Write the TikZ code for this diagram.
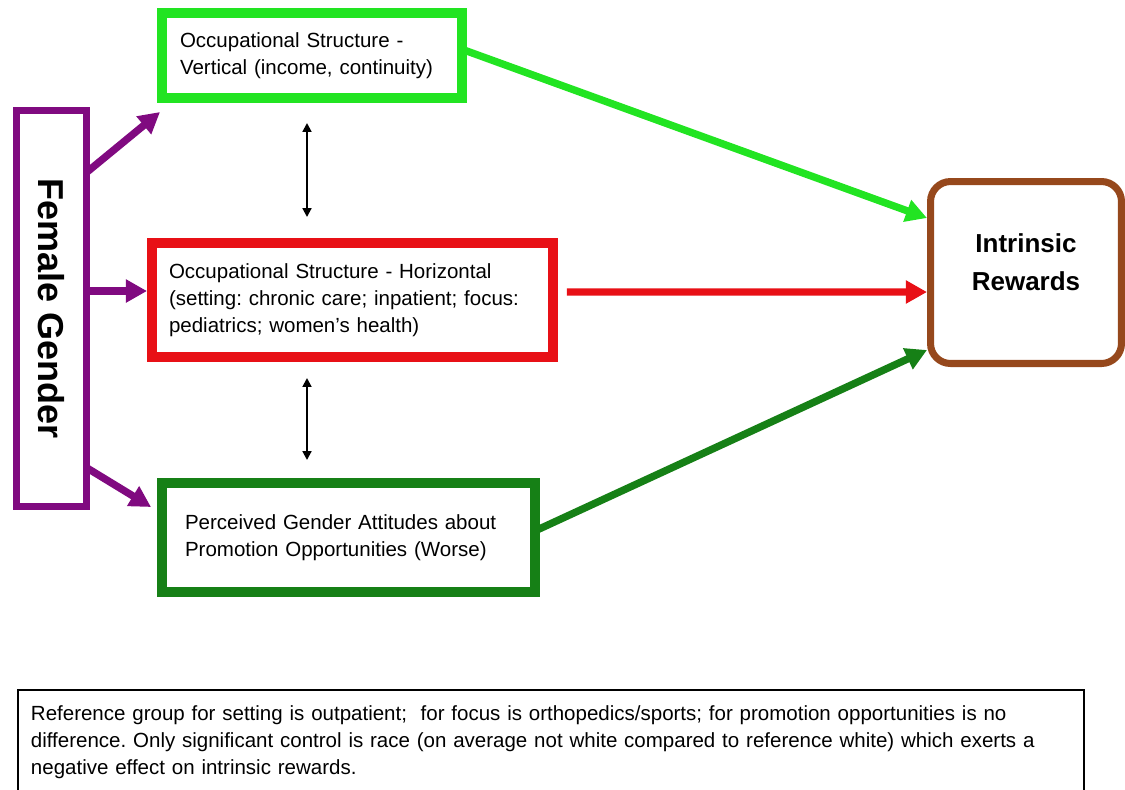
\documentclass[tikz,border=0pt]{standalone}
\usepackage{graphicx}
\usepackage{fontspec}
\setmainfont{Liberation Sans}
\usetikzlibrary{arrows.meta,calc}
\frenchspacing

\definecolor{vertgreen}{RGB}{34,228,34}
\definecolor{horizred}{RGB}{232,16,22}
\definecolor{attgreen}{RGB}{22,128,22}
\definecolor{genpurple}{RGB}{128,10,128}
\definecolor{rewbrown}{RGB}{150,72,28}

\begin{document}
\begin{tikzpicture}
[>={Triangle[length=12pt,width=12.5pt]}, x=0.02cm, y=-0.02cm,
 font=\fontsize{11.67}{15.37}\selectfont,
 factor/.style={draw, line width=5.7pt, align=left, inner ysep=0pt},
 effect/.style={->, line width=4.2pt},
 link/.style={{Triangle[length=5pt,width=5pt]}-{Triangle[length=5pt,width=5pt]}, line width=1.1pt}]

	\path[clip, use as bounding box] (0,0) rectangle (1125,789);
	%\draw[gray,step=50] (0,0) grid (1125,789);

	\node[factor, draw=vertgreen, minimum width=6cm, minimum height=1.7cm,
		text width=5.28cm, inner xsep=0.36cm] (vert) at (312,55.5)
	{Occupational Structure -\\Vertical (income, continuity)};
	\node[factor, draw=horizred, minimum width=8.02cm, minimum height=2.28cm,
		text width=7.34cm, inner xsep=0.34cm] (horiz) at (352.5,300)
	{Occupational Structure - Horizontal\\(setting: chronic care; inpatient; focus:\\pediatrics; women's health)};
	\node[factor, draw=attgreen, minimum width=7.46cm, minimum height=2.18cm,
		text width=6.54cm, inner xsep=0.46cm] (att) at (348.5,537.5)
	{Perceived Gender Attitudes about\\Promotion Opportunities (Worse)\par\vspace{0.14cm}};

	\node[draw=genpurple, line width=4pt, minimum width=1.4cm, minimum height=7.92cm,
		inner sep=0pt, font=\fontsize{20.5}{24}\selectfont\bfseries] (gender) at (51.5,308.5)
	{\rotatebox{-90}{Female Gender}};
	\node[draw=rewbrown, line width=4pt, rounded corners=0.4cm, minimum width=3.82cm,
		minimum height=3.64cm, align=center, font=\fontsize{14.8}{21.6}\selectfont\bfseries] (rew) at (1026,272.5)
	{Intrinsic\\Rewards\par\vspace{0.4cm}};

	\node[draw, line width=1.1pt, anchor=north west, text width=20.8cm, inner xsep=0.26cm,
		inner ysep=0.32cm, align=left] (note) at (17,689)
	{Reference group for setting is outpatient;\ \ for focus is orthopedics/sports; for promotion opportunities is no\\
	difference. Only significant control is race (on average not white compared to reference white) which exerts a\\
	negative effect on intrinsic rewards.};

	\draw[effect, genpurple] ($(gender.north east)+(-3,65)$) -- ($(vert.south west)+(3,9)$);
	\coordinate (hin) at ($(horiz.west)+(0,-9)$);
	\draw[effect, genpurple] ($(gender.east |- hin)+(-3,0)$) -- (hin);
	\draw[effect, genpurple] ($(gender.south east)+(-3,-42)$) -- ($(att.north west)+(-6,29)$);

	\coordinate (v1) at ($(vert.south)+(-5,20)$);
	\draw[link] (v1) -- ($(v1 |- horiz.north)+(0,-21)$);
	\coordinate (v2) at ($(horiz.south -| v1)+(0,16)$);
	\draw[link] (v2) -- ($(v2 |- att.north)+(0,-18)$);

	\draw[effect, vertgreen] ($(vert.east)+(-3,-5.5)$) -- ($(rew.west)+(0,-54.5)$);
	\draw[effect, horizred] ($(horiz.east)+(9,-8)$) -- ($(rew.west)+(0,19.5)$);
	\draw[effect, attgreen] ($(att.east)+(-3,-7.5)$) -- ($(rew.west)+(0,77.5)$);
\end{tikzpicture}
\end{document}
